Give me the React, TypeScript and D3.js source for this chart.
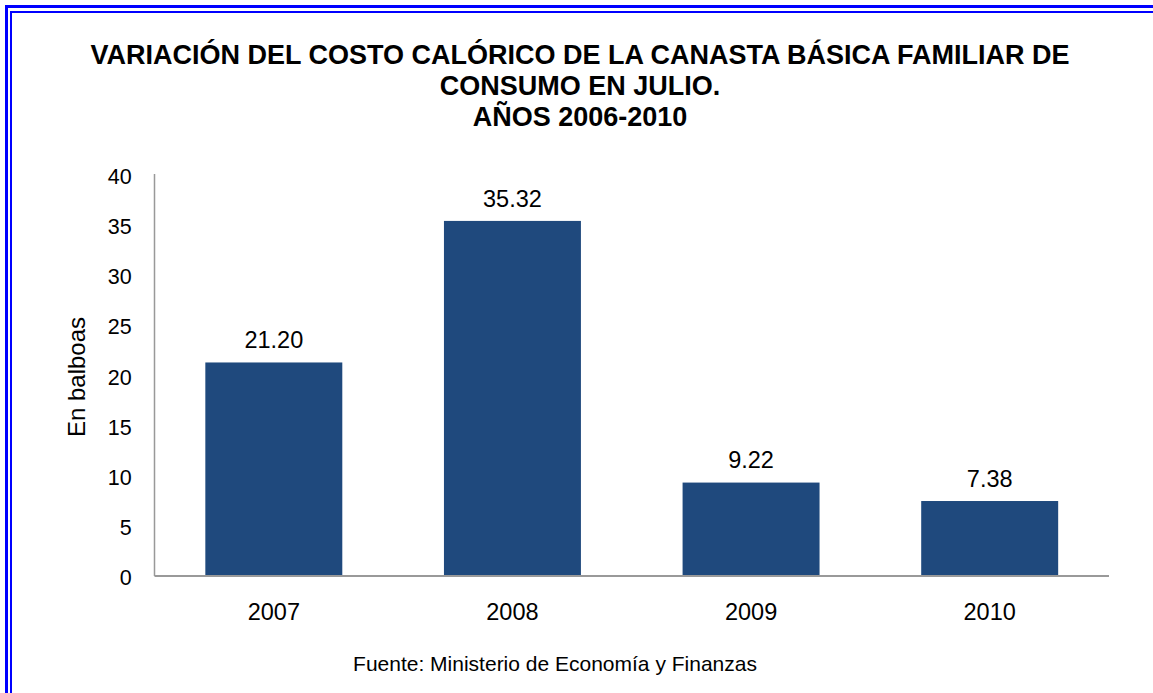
import React from "react";
import * as d3 from "d3";

const categories = ["2007", "2008", "2009", "2010"];
const values = [21.2, 35.32, 9.22, 7.38];
const valueLabels = ["21.20", "35.32", "9.22", "7.38"];
const yTicks = [0, 5, 10, 15, 20, 25, 30, 35, 40];
const titleLines = [
  "VARIACIÓN DEL COSTO CALÓRICO DE LA CANASTA BÁSICA FAMILIAR DE",
  "CONSUMO EN JULIO.",
  "AÑOS 2006-2010",
];
const yTitle = "En balboas";
const source = "Fuente: Ministerio de Economía y Finanzas";

export default function App() {
  const W = 1153, H = 693;
  const left = 154.5, right = 1109, top = 174, bottom = 575;
  const x = d3.scaleBand<string>().domain(categories).range([left, right]).paddingInner(0.426).paddingOuter(0.213);
  const y = d3.scaleLinear().domain([0, 40]).range([bottom, top]);
  const font = "'Liberation Sans', Arial, sans-serif";
  const titleBase = [63.5, 95, 126];
  return (
    <svg width={W} height={H} style={{ position: "absolute", left: 0, top: 0, background: "#fff" }} fontFamily={font}>
      <rect x={0} y={0} width={W} height={H} fill="#fff" />
      <line x1={6.5} y1={5} x2={6.5} y2={H} stroke="#0000ff" strokeWidth={3} />
      <line x1={5} y1={6.5} x2={W} y2={6.5} stroke="#0000ff" strokeWidth={3} />
      <line x1={11} y1={12} x2={11} y2={H} stroke="#0000ff" strokeWidth={2} />
      <line x1={10} y1={12} x2={W} y2={12} stroke="#0000ff" strokeWidth={2} />
      {titleLines.map((t, i) => (
        <text key={i} x={580} y={titleBase[i]} textAnchor="middle" fontSize={27} fontWeight="bold" fill="#000">{t}</text>
      ))}
      {categories.map((c, i) => (
        <rect key={c} x={x(c)} y={y(values[i])} width={x.bandwidth()} height={bottom - y(values[i])} fill="#1F497D" />
      ))}
      {categories.map((c, i) => (
        <text key={"v" + c} x={(x(c) as number) + x.bandwidth() / 2} y={y(values[i]) - 14.3} textAnchor="middle" fontSize={23.5} fill="#000">{valueLabels[i]}</text>
      ))}
      <line x1={left} y1={top} x2={left} y2={bottom + 1} stroke="#999" strokeWidth={1.5} />
      <line x1={left} y1={bottom + 1} x2={right} y2={bottom + 1} stroke="#999" strokeWidth={2} />
      {yTicks.map((t) => (
        <text key={t} x={131.7} y={y(t) + 10} textAnchor="end" fontSize={21.5} fill="#000">{t}</text>
      ))}
      {categories.map((c) => (
        <text key={"x" + c} x={(x(c) as number) + x.bandwidth() / 2} y={619.5} textAnchor="middle" fontSize={23.5} fill="#000">{c}</text>
      ))}
      <text transform={`translate(85,377) rotate(-90)`} textAnchor="middle" fontSize={24} fill="#000">{yTitle}</text>
      <text x={555} y={670.5} textAnchor="middle" fontSize={21} fill="#000">{source}</text>
    </svg>
  );
}
